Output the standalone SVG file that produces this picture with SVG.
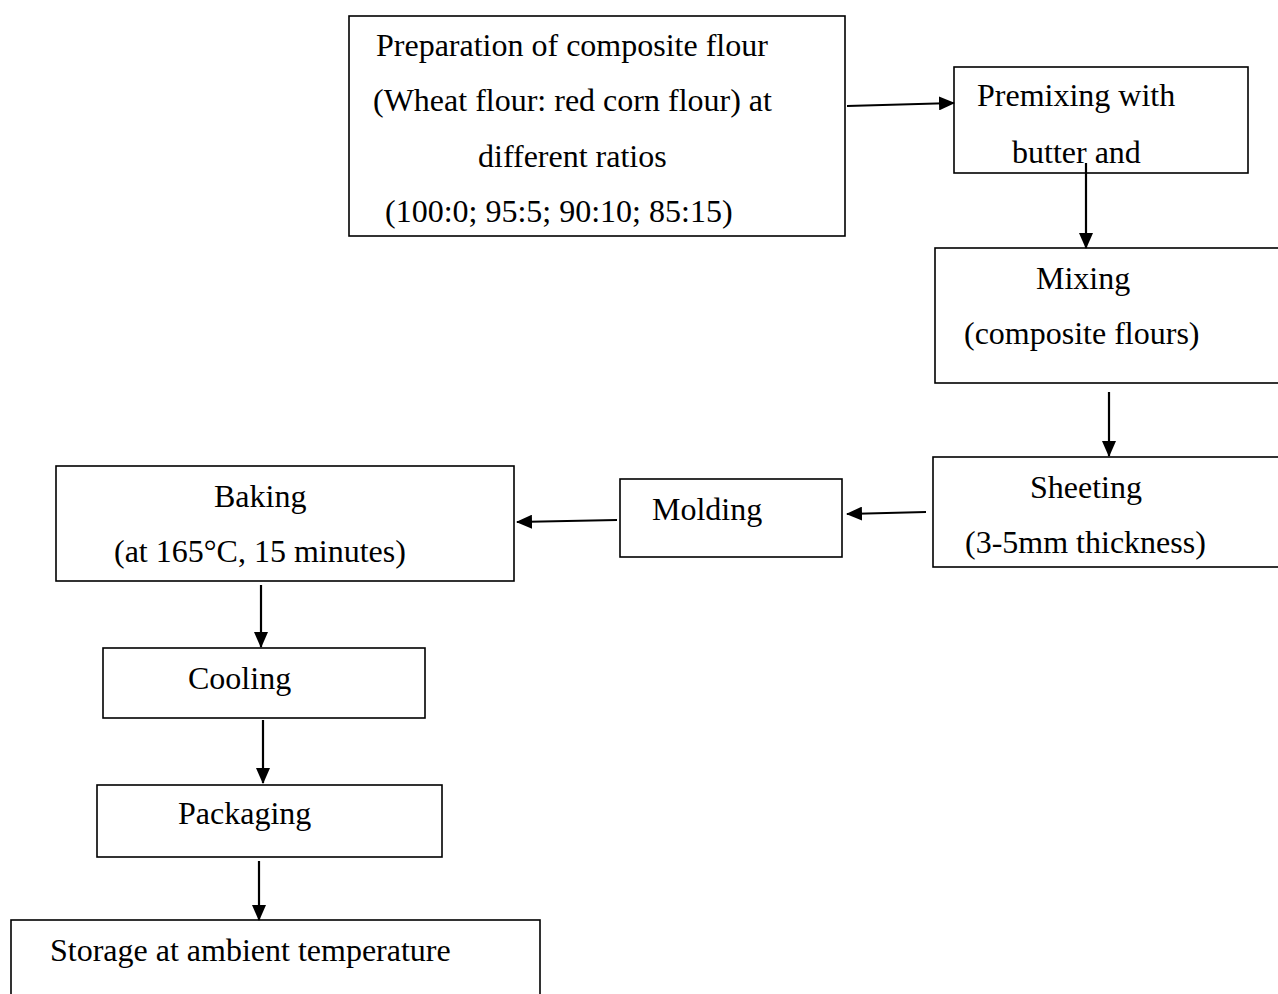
<svg xmlns="http://www.w3.org/2000/svg" width="1278" height="994" viewBox="0 0 1278 994">
<style>
.box{fill:#fff;stroke:#000;stroke-width:1.6}
.t{font-family:"Liberation Serif","Times New Roman",serif;font-size:32px;fill:#000}
.c{stroke:#000;stroke-width:2.2;fill:none;marker-end:url(#ah)}
</style>
<defs>
<marker id="ah" markerWidth="16" markerHeight="14" refX="15" refY="7" orient="auto" markerUnits="userSpaceOnUse" viewBox="0 0 16 14">
<path d="M0,0 L16,7 L0,14 z" fill="#000"/>
</marker>
</defs>
<rect width="1278" height="994" fill="#fff"/>
<g id="prep">
<rect class="box" x="349" y="16" width="496" height="220"/>
<text class="t" x="376" y="56">Preparation of composite flour</text>
<text class="t" x="373" y="111">(Wheat flour: red corn flour) at</text>
<text class="t" x="478" y="167">different ratios</text>
<text class="t" x="385" y="222">(100:0; 95:5; 90:10; 85:15)</text>
</g>
<g id="premix">
<rect class="box" x="954" y="67" width="294" height="106"/>
<text class="t" x="977" y="106">Premixing with</text>
<text class="t" x="1012" y="163">butter and</text>
</g>
<g id="mixing">
<rect class="box" x="935" y="248" width="360" height="135"/>
<text class="t" x="1036" y="289">Mixing</text>
<text class="t" x="964" y="344">(composite flours)</text>
</g>
<g id="sheeting">
<rect class="box" x="933" y="457" width="360" height="110"/>
<text class="t" x="1030" y="498">Sheeting</text>
<text class="t" x="965" y="553">(3-5mm thickness)</text>
</g>
<g id="molding">
<rect class="box" x="620" y="479" width="222" height="78"/>
<text class="t" x="652" y="520">Molding</text>
</g>
<g id="baking">
<rect class="box" x="56" y="466" width="458" height="115"/>
<text class="t" x="214" y="507">Baking</text>
<text class="t" x="114" y="562">(at 165°C, 15 minutes)</text>
</g>
<g id="cooling">
<rect class="box" x="103" y="648" width="322" height="70"/>
<text class="t" x="188" y="689">Cooling</text>
</g>
<g id="packaging">
<rect class="box" x="97" y="785" width="345" height="72"/>
<text class="t" x="178" y="824">Packaging</text>
</g>
<g id="storage">
<rect class="box" x="11" y="920" width="529" height="100"/>
<text class="t" x="50" y="961">Storage at ambient temperature</text>
</g>
<g id="connectors">
<line class="c" x1="847" y1="106" x2="954" y2="103"/>
<line class="c" x1="1086" y1="163" x2="1086" y2="248"/>
<line class="c" x1="1109" y1="392" x2="1109" y2="456"/>
<line class="c" x1="926" y1="512" x2="847" y2="514"/>
<line class="c" x1="617" y1="520" x2="517" y2="522"/>
<line class="c" x1="261" y1="585" x2="261" y2="647"/>
<line class="c" x1="263" y1="720" x2="263" y2="783"/>
<line class="c" x1="259" y1="861" x2="259" y2="920"/>
</g>
</svg>
